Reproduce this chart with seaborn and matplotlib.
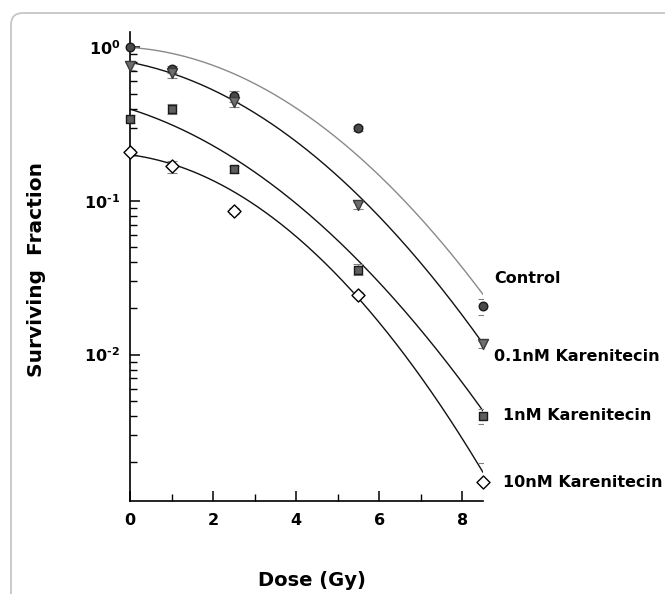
import numpy as np
import pandas as pd
import matplotlib
matplotlib.use("Agg")
import matplotlib.pyplot as plt
import seaborn as sns
from matplotlib.patches import FancyBboxPatch
from matplotlib.ticker import LogLocator, FuncFormatter, NullFormatter, MultipleLocator

# ---------------- data ----------------
series = ["Control", "0.1nM Karenitecin", "1nM Karenitecin", "10nM Karenitecin"]
dose = [0, 1, 2.5, 5.5, 8.5]

control_sf = [1.0, 0.72, 0.48, 0.297, 0.0206]
control_err = [0.0, 0.04, 0.04, 0.012, 0.0025]
k01_sf = [0.755, 0.68, 0.44, 0.094, 0.0117]
k01_err = [0.04, 0.05, 0.03, 0.005, 0.0006]
k1_sf = [0.342, 0.40, 0.161, 0.0358, 0.0040]
k1_err = [0.02, 0.03, 0.008, 0.003, 0.00045]
k10_sf = [0.207, 0.168, 0.086, 0.0246, 0.00148]
k10_err = [0.01, 0.015, 0.004, 0.001, 0.0005]

# linear-quadratic fit curves S = S0*exp(-alpha*D - beta*D^2), parameters
fit_s0 = [1.0, 0.80, 0.397, 0.20]
fit_alpha = [0.042, 0.1195, 0.1957, 0.0806]
fit_beta = [0.0463, 0.0443, 0.0396, 0.0564]
fit_dmax = 8.5

label_x = [8.76, 8.76, 8.99, 8.99]
label_y = [0.0293, 0.00909, 0.00376, 0.001374]

yticks_major = [1e-2, 1e-1, 1e0]
xticks_major = [0, 2, 4, 6, 8]

# ---------------- styles ----------------
markers = ["o", "v", "s", "D"]
face = ["#4a4a4a", "#6e6e6e", "#5e5e5e", "white"]
edge = ["#1a1a1a", "#3a3a3a", "#1a1a1a", "black"]
msize = [38, 52, 32, 44]
line_col = ["#8a8a8a", "#111111", "#111111", "#111111"]

sns.set_theme(style="ticks")
plt.rcParams["font.family"] = ["DejaVu Sans"]
plt.rcParams["font.weight"] = "bold"
plt.rcParams["mathtext.default"] = "bf"
for key in ["text.color", "axes.labelcolor", "xtick.color", "ytick.color",
            "xtick.labelcolor", "ytick.labelcolor", "axes.edgecolor"]:
    plt.rcParams[key] = "black"

fig = plt.figure(figsize=(6.65, 5.94), dpi=100)
fig.patch.set_facecolor("white")
ax = fig.add_axes([130 / 665, 1 - 500.7 / 594, 353 / 665, 468.7 / 594])
ax.set_facecolor("white")

# rounded frame around the figure
frame = FancyBboxPatch((0.11, -0.5), 7.5, 5.94 - 0.13 + 0.5,
                       boxstyle="round,pad=0,rounding_size=0.12",
                       transform=fig.dpi_scale_trans, fc="none",
                       ec="#c6c6c6", lw=1.3, zorder=0)
fig.patches.append(frame)

# curves
rows = []
dgrid = np.linspace(0, fit_dmax, 200)
for name, s0, a, b in zip(series, fit_s0, fit_alpha, fit_beta):
    for d in dgrid:
        rows.append({"dose": d, "sf": s0 * np.exp(-a * d - b * d * d), "series": name})
curves = pd.DataFrame(rows)
sns.lineplot(data=curves, x="dose", y="sf", hue="series", hue_order=series,
             palette=dict(zip(series, line_col)), estimator=None, sort=False,
             lw=1.0, legend=False, ax=ax, zorder=2)

# points + error bars
vals = [control_sf, k01_sf, k1_sf, k10_sf]
errs = [control_err, k01_err, k1_err, k10_err]
for i, name in enumerate(series):
    df = pd.DataFrame({"dose": dose, "sf": vals[i], "err": errs[i]})
    ax.errorbar(df["dose"], df["sf"], yerr=df["err"], fmt="none", ecolor="#808080",
                elinewidth=0.8, capsize=3.5, capthick=0.8, zorder=3)
    sns.scatterplot(data=df, x="dose", y="sf", marker=markers[i], s=msize[i],
                    color=face[i], edgecolor=edge[i], linewidth=1.0,
                    ax=ax, zorder=4, clip_on=False, legend=False)

# series labels
for name, lx, ly in zip(series, label_x, label_y):
    ax.text(lx, ly, name, fontsize=11.5, fontweight="bold", ha="left",
            va="baseline", color="black", clip_on=False)

ax.set_yscale("log")
ax.set_xlim(0, 8.5)
ax.set_ylim(0.00112, 1.26)

ax.yaxis.set_minor_locator(LogLocator(base=10, subs=np.arange(2, 10), numticks=20))
ax.yaxis.set_minor_formatter(NullFormatter())
ax.set_yticks(yticks_major)
ax.yaxis.set_major_formatter(FuncFormatter(
    lambda v, p: r"$\mathbf{10^{\text{%d}}}$" % int(round(np.log10(v)))))
ax.set_xticks(xticks_major)
ax.xaxis.set_minor_locator(MultipleLocator(1))

ax.tick_params(axis="both", which="major", direction="in", length=7, width=1.1,
               color="black", labelsize=11.5, labelcolor="black")
ax.tick_params(axis="both", which="minor", direction="in", length=5, width=1.0,
               color="black")
ax.tick_params(axis="x", which="major", pad=9)
ax.tick_params(axis="y", which="major", pad=7)
for lab in ax.get_xticklabels():
    lab.set_fontweight("bold")

sns.despine(ax=ax)
for sp in ["left", "bottom"]:
    ax.spines[sp].set_linewidth(1.2)
    ax.spines[sp].set_color("black")

ax.set_xlabel("Dose (Gy)", fontsize=14, fontweight="bold", color="black")
ax.set_ylabel("Surviving  Fraction", fontsize=14.5, fontweight="bold", color="black")
ax.xaxis.set_label_coords(0.515, -0.150)
ax.yaxis.set_label_coords(-0.239, 0.494)

fig.savefig("out.png", dpi=100, facecolor="white")
